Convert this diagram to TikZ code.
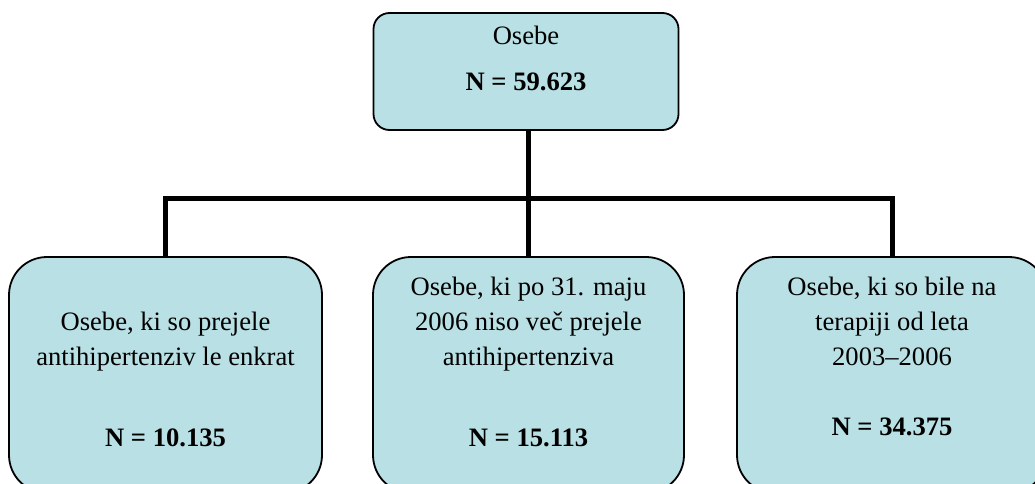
\documentclass[tikz,border=0pt]{standalone}
\usepackage{fontspec}
\setmainfont{Liberation Serif}
\definecolor{boxfill}{RGB}{185,224,228}
\begin{document}
\begin{tikzpicture}[x=1pt,y=-1pt,
  box/.style={draw=black, line width=1.8pt, fill=boxfill, rounded corners=#1, inner sep=0pt},
  box/.default=38pt,
  txt/.style={anchor=base, inner sep=0pt, font=\fontsize{26.6}{34}\selectfont},
  btxt/.style={txt, font=\fontsize{26.6}{34}\selectfont\bfseries},
  conn/.style={draw=black, line width=5pt, line join=miter}]
\useasboundingbox (0,0) rectangle (1035,484);
\begin{scope}
\clip (0,0) rectangle (1035,484);
% boxes
\node[box=16pt, minimum width=305pt, minimum height=117pt] (top) at (526,71.5) {};
\node[box, minimum width=313pt, minimum height=236pt] (left) at (165.5,375) {};
\node[box, minimum width=311pt, minimum height=236pt] (mid) at (528.5,375) {};
\node[box, minimum width=310pt, minimum height=236pt] (right) at (892,375) {};
% connectors
\coordinate (bar) at (528,198);
\draw[conn] (mid.north |- top.south) -- (mid.north);
\draw[conn] (left.north) |- (bar) -| (right.north);
\end{scope}
% texts
\node[txt] (t0) at (526,45) {Osebe};
\node[btxt] (n0) at (526,91) {N = 59.623};
\node[txt] (l1) at (165.5,330) {Osebe, ki so prejele};
\node[txt] (l2) at (165.5,365) {antihipertenziv le enkrat};
\node[btxt] (ln) at (165.5,446) {N = 10.135};
\node[txt] (m1) at (528.5,295) {Osebe, ki po 31. maju};
\node[txt] (m2) at (528.5,330) {2006 niso več prejele};
\node[txt] (m3) at (528.5,365) {antihipertenziva};
\node[btxt] (mn) at (528.5,446) {N = 15.113};
\node[txt] (r1) at (892,295) {Osebe, ki so bile na};
\node[txt] (r2) at (892,330) {terapiji od leta};
\node[txt] (r3) at (892,365) {2003–2006};
\node[btxt] (rn) at (892,435) {N = 34.375};
\end{tikzpicture}
\end{document}
